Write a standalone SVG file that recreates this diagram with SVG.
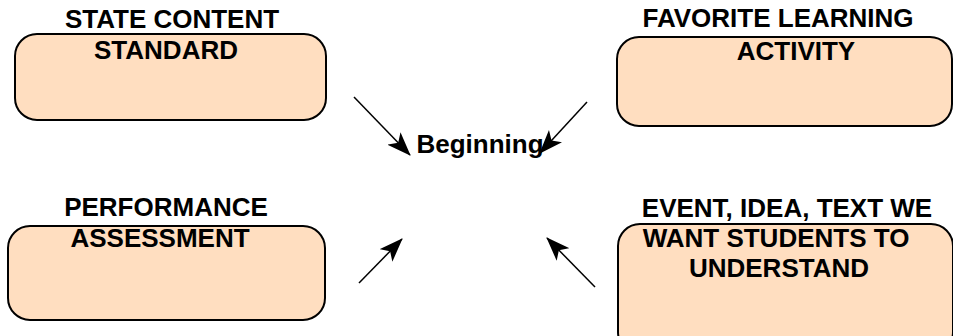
<svg xmlns="http://www.w3.org/2000/svg" width="953" height="336" viewBox="0 0 953 336">
<defs>
<style>
.box{fill:#FFDEC0;stroke:#000;stroke-width:2}
.t{font-family:"Liberation Sans",Arial,sans-serif;font-weight:bold;font-size:26px;fill:#000;text-anchor:middle}
.c{stroke:#000;stroke-width:1.5;fill:none;marker-end:url(#ah)}
</style>
<marker id="ah" markerUnits="userSpaceOnUse" markerWidth="24" markerHeight="18" viewBox="0 0 24 18" refX="23" refY="9" orient="auto">
<path d="M0,0 L24,9 L0,18 L6,9 Z" fill="#000"/>
</marker>
</defs>
<rect width="953" height="336" fill="#fff"/>
<g id="state-content-standard">
<rect class="box" x="15" y="34" width="311" height="86" rx="22"/>
<text class="t" x="172" y="28">STATE CONTENT</text>
<text class="t" x="166" y="59">STANDARD</text>
</g>
<g id="favorite-learning-activity">
<rect class="box" x="617" y="37" width="335" height="89" rx="22"/>
<text class="t" x="778" y="27">FAVORITE LEARNING</text>
<text class="t" x="796" y="60">ACTIVITY</text>
</g>
<g id="performance-assessment">
<rect class="box" x="8" y="226" width="317" height="94" rx="22"/>
<text class="t" x="166" y="216">PERFORMANCE</text>
<text class="t" x="160" y="247">ASSESSMENT</text>
</g>
<g id="event-idea-text">
<rect class="box" x="618" y="224" width="335" height="130" rx="22"/>
<text class="t" x="787" y="217">EVENT, IDEA, TEXT WE</text>
<text class="t" x="776" y="247">WANT STUDENTS TO</text>
<text class="t" x="779" y="277">UNDERSTAND</text>
</g>
<g id="beginning">
<text class="t" x="480" y="153">Beginning</text>
</g>
<g id="connectors">
<line class="c" x1="354" y1="97" x2="410" y2="155"/>
<line class="c" x1="587" y1="102" x2="540" y2="153"/>
<line class="c" x1="359" y1="283" x2="402" y2="239"/>
<line class="c" x1="595" y1="287" x2="547" y2="238"/>
</g>
</svg>
